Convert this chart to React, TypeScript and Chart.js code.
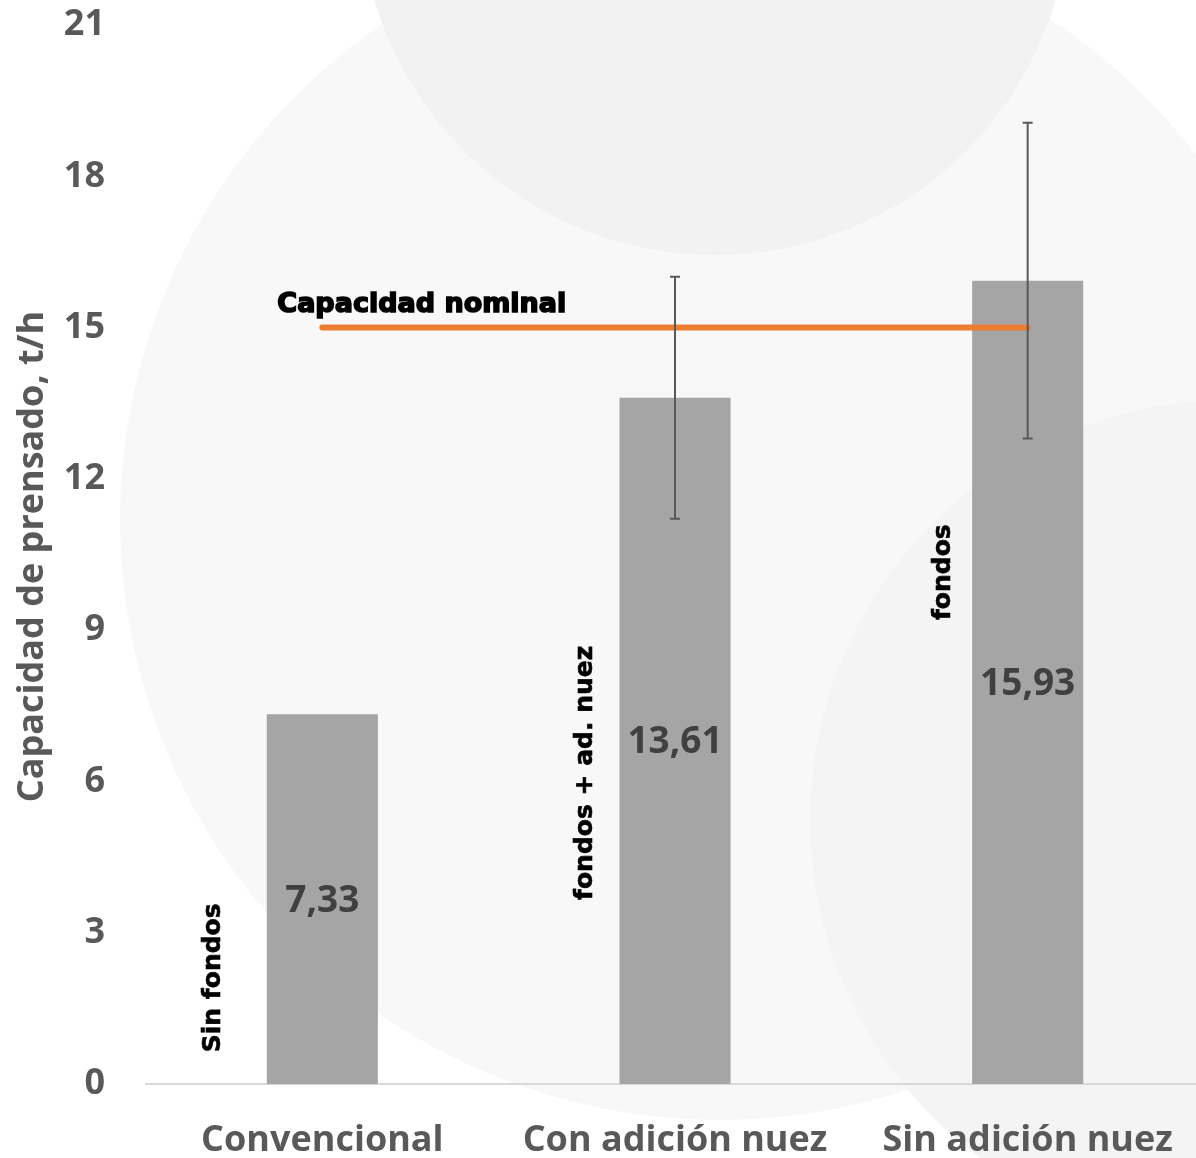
import React, { useEffect, useRef } from "react";
import { Chart, registerables } from "chart.js";

Chart.register(...registerables);

const categories = ["Convencional", "Con adición nuez", "Sin adición nuez"];
const values = [7.33, 13.61, 15.93];
const errors: (number | null)[] = [null, 2.4, 3.13];
const nominal = [15, 15, 15];
const valueLabels = ["7,33", "13,61", "15,93"];
const noteTexts = ["Sin fondos", "fondos + ad. nuez", "fondos"];
const noteStartValues = [0.63, 3.65, 9.2];
const nominalLabel = "Capacidad nominal";
const yTitle = "Capacidad de prensado, t/h";
const yMin = 0;
const yMax = 21;
const yStep = 3;

const W = 1204;
const H = 1158;
const AXIS_FONT = '"Open Sans", sans-serif';
const NOTE_FONT = '"DejaVu Sans", sans-serif';

const decorPlugin = {
  id: "decor",
  beforeDraw(chart: any) {
    const { ctx } = chart;
    ctx.save();
    ctx.fillStyle = "#f8f8f8";
    ctx.beginPath();
    ctx.arc(720, 520, 600, 0, Math.PI * 2);
    ctx.fill();
    ctx.fillStyle = "#f2f2f2";
    ctx.beginPath();
    ctx.arc(715, -100, 355, 0, Math.PI * 2);
    ctx.fill();
    ctx.fillStyle = "#f4f4f4";
    ctx.beginPath();
    ctx.arc(1230, 820, 420, 0, Math.PI * 2);
    ctx.fill();
    ctx.restore();
  },
};

const overlayPlugin = {
  id: "overlay",
  afterDatasetsDraw(chart: any) {
    const { ctx, scales } = chart;
    const y = scales.y;
    const area = chart.chartArea;
    const meta = chart.getDatasetMeta(0);
    ctx.save();

    // error bars
    ctx.strokeStyle = "#595959";
    ctx.lineWidth = 2;
    meta.data.forEach((bar: any, i: number) => {
      const e = errors[i];
      if (e == null) return;
      const top = y.getPixelForValue(values[i] + e);
      const bot = y.getPixelForValue(values[i] - e);
      ctx.beginPath();
      ctx.moveTo(bar.x, top);
      ctx.lineTo(bar.x, bot);
      ctx.moveTo(bar.x - 5, top);
      ctx.lineTo(bar.x + 5, top);
      ctx.moveTo(bar.x - 5, bot);
      ctx.lineTo(bar.x + 5, bot);
      ctx.stroke();
    });

    // value labels
    ctx.fillStyle = "#404040";
    ctx.font = `bold 37px ${AXIS_FONT}`;
    ctx.textAlign = "center";
    ctx.textBaseline = "middle";
    meta.data.forEach((bar: any, i: number) => {
      ctx.fillText(valueLabels[i], bar.x, (bar.y + bar.base) / 2 + 2);
    });

    // rotated notes
    const noteOffsets = [-109, -90, -84];
    ctx.fillStyle = "#000000";
    ctx.strokeStyle = "#000000";
    ctx.lineWidth = 0.6;
    ctx.font = `bold 25px ${NOTE_FONT}`;
    ctx.textAlign = "left";
    ctx.textBaseline = "middle";
    meta.data.forEach((bar: any, i: number) => {
      ctx.save();
      ctx.translate(bar.x + noteOffsets[i], y.getPixelForValue(noteStartValues[i]));
      ctx.rotate(-Math.PI / 2);
      ctx.fillText(noteTexts[i], 0, 0);
      ctx.strokeText(noteTexts[i], 0, 0);
      ctx.restore();
    });

    // nominal label
    ctx.font = `bold 27px ${NOTE_FONT}`;
    ctx.textAlign = "left";
    ctx.textBaseline = "middle";
    ctx.fillStyle = "#000000";
    ctx.strokeStyle = "#000000";
    ctx.lineWidth = 1.6;
    const lx = meta.data[0].x - 45;
    const ly = y.getPixelForValue(nominal[0]) - 23;
    ctx.fillText(nominalLabel, lx, ly);
    ctx.strokeText(nominalLabel, lx, ly);

    // y title
    ctx.save();
    ctx.font = `bold 36px ${AXIS_FONT}`;
    ctx.fillStyle = "#595959";
    ctx.textAlign = "center";
    ctx.textBaseline = "middle";
    ctx.translate(33, (area.top + area.bottom) / 2 + 2);
    ctx.rotate(-Math.PI / 2);
    ctx.fillText(yTitle, 0, 0);
    ctx.restore();

    ctx.restore();
  },
};

export default function App() {
  const ref = useRef<HTMLCanvasElement>(null);
  useEffect(() => {
    if (!ref.current) return;
    const chart = new Chart(ref.current, {
      type: "bar",
      data: {
        labels: categories,
        datasets: [
          {
            type: "bar",
            data: values,
            backgroundColor: "#a5a5a5",
            barPercentage: 0.315,
            categoryPercentage: 1,
            order: 2,
          },
          {
            type: "line",
            data: nominal,
            borderColor: "#ed7d31",
            borderWidth: 6,
            borderCapStyle: "round",
            pointRadius: 0,
            fill: false,
            order: 1,
          } as any,
        ],
      },
      options: {
        responsive: false,
        animation: false,
        devicePixelRatio: 1,
        layout: { padding: { top: 25, left: 0, right: 0, bottom: 0 } },
        plugins: { legend: { display: false }, tooltip: { enabled: false } },
        scales: {
          x: {
            grid: { display: false, drawTicks: false },
            border: { display: true, color: "#d9d9d9", width: 2 },
            ticks: {
              color: "#595959",
              font: { family: AXIS_FONT, size: 36, weight: "bold" },
              padding: 35,
              maxRotation: 0,
            },
            afterFit: (s: any) => {
              s.height = H - 1084;
              s.paddingLeft = 0;
              s.paddingRight = 0;
            },
          },
          y: {
            min: yMin,
            max: yMax,
            grid: { display: false, drawTicks: false },
            border: { display: false },
            ticks: {
              stepSize: yStep,
              color: "#595959",
              font: { family: AXIS_FONT, size: 36, weight: "bold" },
              padding: 41,
            },
            afterFit: (s: any) => {
              s.width = 146;
              s.paddingTop = 0;
              s.paddingBottom = 0;
            },
          },
        },
      },
      plugins: [decorPlugin, overlayPlugin],
    });
    return () => chart.destroy();
  }, []);
  return (
    <div
      style={{
        position: "absolute",
        left: 0,
        top: 0,
        width: 1196,
        height: H,
        overflow: "hidden",
        background: "#ffffff",
      }}
    >
      <canvas ref={ref} width={W} height={H} style={{ display: "block" }} />
    </div>
  );
}
